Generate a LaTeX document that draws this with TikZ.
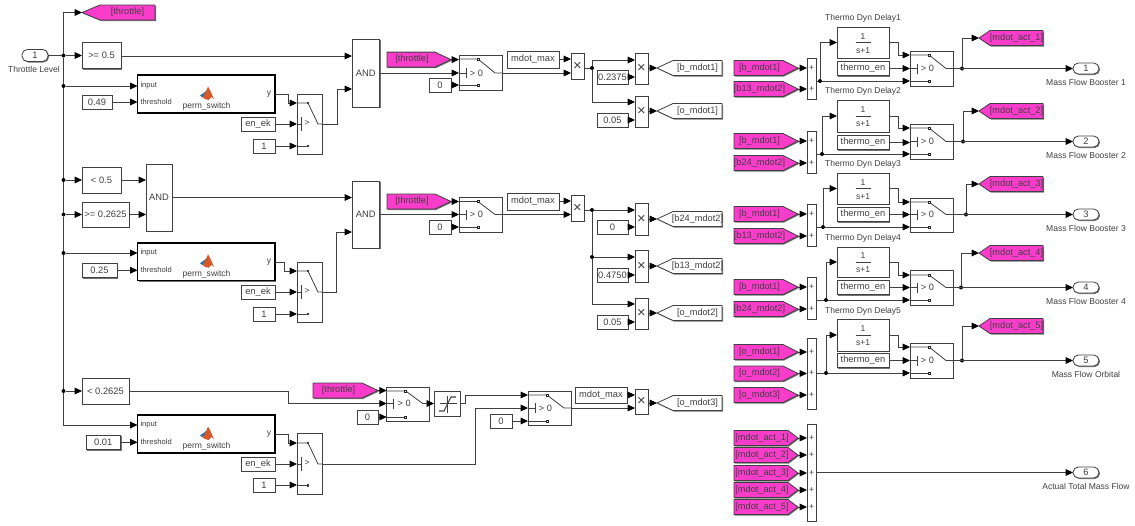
\documentclass[tikz,border=0pt]{standalone}
\usepackage{fontspec}
\setmainfont{Liberation Sans}
\usetikzlibrary{arrows.meta,shadows,calc}
\definecolor{pinkfill}{HTML}{FA3CCB}
\definecolor{wirec}{gray}{0.25}
\definecolor{textc}{gray}{0.25}
\definecolor{mlblue}{HTML}{2A72A8}
\definecolor{mlorange}{HTML}{D9582A}
\tikzset{
  shad/.style={drop shadow={shadow xshift=.75pt,shadow yshift=-.75pt,fill=black!55,opacity=1}},
  blk/.style={rectangle,draw=black!75,fill=white,line width=.6pt,inner sep=0pt,outer sep=0pt,shad,font=\fontsize{7}{8}\selectfont,text=textc},
  permblk/.style={blk,draw=black,line width=1.1pt},
  portblk/.style={blk,rounded corners=4pt},
  prodblk/.style={blk,font=\fontsize{11}{11}\selectfont},
  txt/.style={inner sep=0pt,outer sep=0pt,font=\fontsize{6.4}{8}\selectfont,text=textc},
  pentxt/.style={txt,font=\fontsize{6.9}{8}\selectfont},
  smalltxt/.style={txt,font=\fontsize{5.7}{7}\selectfont},
  wire/.style={draw=wirec,line width=.6pt,-{Triangle[length=5.5pt,width=5pt,color=black]}},
  line/.style={draw=wirec,line width=.6pt},
  jdot/.style={circle,fill=black,inner sep=0pt,minimum size=3pt,outer sep=0pt},
  pent/.style={draw=black!75,line width=.6pt,shad},
  pink/.style={pent,fill=pinkfill},
  white pent/.style={pent,fill=white},
  term/.style={draw=black!85,line width=.5pt,fill=white},
}
% block: [style]{name}{x1}{y1}{x2}{y2}{text}
\newcommand\bx[7][blk]{\node[#1,minimum width={((#5)-(#3))*0.75pt},minimum height={((#6)-(#4))*0.75pt}] (#2) at ({((#3)+(#5))/2},{((#4)+(#6))/2}) {#7};}
% pentagon pointing right (From): name, x1, tip, shoulder, cy, text
\newcommand\fromp[6]{\path[pink] (#2,#5-7.5) -- (#4,#5-7.5) -- (#3,#5) -- (#4,#5+7.5) -- (#2,#5+7.5) -- cycle;
  \coordinate (#1) at (#3,#5);
  \node[pentxt] (#1t) at ({((#2)+(#4))/2+1},#5) {#6};}
% pentagon pointing left (Goto): [style], name, tip, shoulder, x2, cy, text
\newcommand\gotop[7][white pent]{\path[#1] (#3,#6) -- (#4,#6-7.5) -- (#5,#6-7.5) -- (#5,#6+7.5) -- (#4,#6+7.5) -- cycle;
  \coordinate (#2) at (#3,#6);
  \node[pentxt] (#2t) at ({((#4)+(#5))/2},#6) {#7};}
% narrow switch: name,x1,y1,x2,y2,ya,yb,yc
\newcommand\swn[8]{\bx{#1}{#2}{#3}{#4}{#5}{}
  \draw[line] (#2,#6) -- (#2+11,#6) -- (#2+21,#7) -- (#4,#7);
  \draw[line] (#2,#8) -- (#2+11,#8);
  \draw[line,line width=1pt] (#2+11,#6-1.3) -- (#2+11,#6+1.3);
  \draw[line,line width=1pt] (#2+11,#8-1.3) -- (#2+11,#8+1.3);
  \draw[line] (#2,#7) -- (#2+4,#7) (#2+4,#7-7) -- (#2+4,#7+7);
  \node[txt] (#1c) at (#2+10,#7-1) {>};}
% wide switch
\newcommand\swv[8]{\bx{#1}{#2}{#3}{#4}{#5}{}
  \draw[line] (#2,#6) -- (#2+19,#6) -- (#2+36,#7) -- (#4,#7);
  \draw[line] (#2,#8) -- (#2+19,#8);
  \draw[term] (#2+18,#6-1) rectangle (#2+20,#6+1);
  \draw[term] (#2+18,#8-1) rectangle (#2+20,#8+1);
  \draw[line] (#2,#7) -- (#2+7,#7) (#2+7,#7-5) -- (#2+7,#7+5);
  \node[pentxt] (#1c) at (#2+17.5,#7) {> 0};}
% perm_switch block: name,y1,y2,yin,ythr,yout
\newcommand\perm[6]{\bx[permblk]{#1}{137.5}{#2}{275}{#3}{}
  \node[smalltxt,anchor=west] (#1i) at (140.5,#4) {input};
  \node[smalltxt,anchor=west] (#1h) at (140.5,#5) {threshold};
  \node[txt] (#1y) at (269,#6) {y};
  \node[txt] (#1n) at (206.5,{(#2+#3)/2+12.5}) {perm\_switch};
  \begin{scope}[shift={(207,{(#2+#3)/2-0.5})}]
    \fill[mlblue] (-7,2) -- (-2.5,-1.2) -- (-.5,-3.2) -- (1,-1.5) -- (-3,2) -- (-4.2,4) -- cycle;
    \fill[mlorange] (-.5,-3.2) -- (1,-7) -- (3.2,-3) -- (7,5.5) -- (4.5,3.5) -- (1.5,6.5) -- (-2,5.5) -- (-4.2,4) -- (-3,2) -- cycle;
  \end{scope}}
\begin{document}
\begin{tikzpicture}[x=0.75pt,y=-0.75pt]
\useasboundingbox (0,0) rectangle (1135,525);
% --- input and bus ---
\bx[portblk]{tl}{22}{49.5}{48}{61.5}{1}
\node[txt] (tll) at (34,69) {Throttle Level};
\node[jdot] (j0) at (63.5,55.5) {};
\node[jdot] (j1) at (63.5,86) {};
\node[jdot] (j2) at (63.5,180) {};
\node[jdot] (j3) at (63.5,214.5) {};
\node[jdot] (j4) at (63.5,253) {};
\node[jdot] (j5) at (63.5,391) {};
\gotop[pink]{gthr}{82}{100}{155}{12.5}{[throttle]}
\draw[line] (tl.east) -- (j0);
\draw[wire] (j0) |- (gthr);
\draw[line] (j0) -- (j1) -- (j2) -- (j3) -- (j4) -- (j5);
% --- first row ---
\bx{c1}{82}{42.5}{121}{68.5}{>= 0.5}
\bx{and1}{352}{39}{379.5}{107}{AND}
\draw[wire] (j0) -- (c1.west |- j0);
\draw[wire] (c1.east |- 0,56) -- (and1.west |- 0,56);
\perm{ps1}{75}{113}{86}{102}{94}
\bx{k1}{82}{95}{112}{109}{0.49}
\draw[wire] (j1) -- (ps1.west |- j1);
\draw[wire] (k1.east) -- (ps1.west |- k1.east);
\bx{en1}{241}{117}{275}{131}{en\_ek}
\bx{o1}{253}{139}{275}{153}{1}
\swn{s1}{297}{94}{322}{154}{103}{124}{146}
\draw[wire] (ps1.east |- 0,94) -| (288,103) -- (s1.west |- 0,103);
\draw[wire] (en1.east) -- (s1.west |- en1.east);
\draw[wire] (o1.east) -- (s1.west |- o1.east);
\draw[wire] (s1.east |- 0,124) -- (337.5,124) -- (337.5,89) -- (and1.west |- 0,89);
\fromp{f1}{387}{451}{435}{59.6}{[throttle]}
\bx{k2}{429}{78}{451}{92}{0}
\swv{s2}{459}{55}{502}{90}{59}{73}{85}
\draw[wire] (f1) -- (s2.west |- f1);
\draw[wire] (and1.east |- 0,73) -- (s2.west |- 0,73);
\draw[wire] (k2.east) -- (s2.west |- k2.east);
\bx{m1}{507}{51}{559}{68}{mdot\_max}
\bx[prodblk]{p1}{571}{53}{584}{79}{×}
\draw[wire] (m1.east |- 0,59) -- (p1.west |- 0,59);
\draw[wire] (s2.east |- 0,73) -- (p1.west |- 0,73);
\bx[prodblk]{p2}{635}{53}{648}{84}{×}
\bx[prodblk]{p3}{635}{96}{648}{127}{×}
\bx{k3}{597}{70}{628}{84}{0.2375}
\bx{k4}{597}{113}{628}{127}{0.05}
\node[jdot] (j6) at (592,68) {};
\draw[line] (p1.east |- j6) -- (j6);
\draw[wire] (j6) |- (p2.west |- 0,60);
\draw[wire] (j6) |- (p3.west |- 0,102);
\draw[wire] (k3.east) -- (p2.west |- k3.east);
\draw[wire] (k4.east) -- (p3.west |- k4.east);
\gotop{g1}{657}{673}{722}{68}{[b\_mdot1]}
\gotop{g2}{657}{673}{722}{111}{[o\_mdot1]}
\draw[wire] (p2.east |- g1) -- (g1);
\draw[wire] (p3.east |- g2) -- (g2);
% --- second row ---
\bx{c2}{82}{167}{121}{193}{< 0.5}
\bx{c3}{82}{202}{129}{227}{>= 0.2625}
\bx{and2}{146}{164}{172}{231}{AND}
\bx{and3}{352}{181}{379.5}{248}{AND}
\draw[wire] (j2) -- (c2.west |- j2);
\draw[wire] (j3) -- (c3.west |- j3);
\draw[wire] (c2.east |- j2) -- (and2.west |- j2);
\draw[wire] (c3.east |- j3) -- (and2.west |- j3);
\draw[wire] (and2.east |- 0,197.5) -- (and3.west |- 0,197.5);
\perm{ps2}{243}{280.5}{253}{270}{262}
\bx{k5}{82}{263}{117}{277.5}{0.25}
\draw[wire] (j4) -- (ps2.west |- j4);
\draw[wire] (k5.east) -- (ps2.west |- k5.east);
\bx{en2}{241}{285}{275}{299}{en\_ek}
\bx{o2}{253}{307}{275}{321}{1}
\swn{s3}{297}{262}{322}{322}{271}{292}{314}
\draw[wire] (ps2.east |- 0,262) -| (284,271) -- (s3.west |- 0,271);
\draw[wire] (en2.east) -- (s3.west |- en2.east);
\draw[wire] (o2.east) -- (s3.west |- o2.east);
\draw[wire] (s3.east |- 0,292) -- (336,292) -- (336,232) -- (and3.west |- 0,232);
\fromp{f2}{387}{451}{435}{201.5}{[throttle]}
\bx{k6}{429}{220}{451}{234}{0}
\swv{s4}{459}{197}{502}{232}{201.5}{214.5}{227}
\draw[wire] (f2) -- (s4.west |- f2);
\draw[wire] (and3.east |- 0,214.5) -- (s4.west |- 0,214.5);
\draw[wire] (k6.east) -- (s4.west |- k6.east);
\bx{m2}{507}{193}{559}{210}{mdot\_max}
\bx[prodblk]{p4}{571}{195}{584}{221}{×}
\draw[wire] (m2.east |- 0,201) -- (p4.west |- 0,201);
\draw[wire] (s4.east |- 0,214.5) -- (p4.west |- 0,214.5);
\bx[prodblk]{p5}{635}{203}{648}{235}{×}
\bx[prodblk]{p6}{635}{250}{648}{282}{×}
\bx[prodblk]{p7}{635}{298}{648}{329}{×}
\bx{k7}{597}{220}{628}{234}{0}
\bx{k8}{597}{268}{628}{282}{0.4750}
\bx{k9}{597}{315}{628}{329}{0.05}
\node[jdot] (j7) at (592,210) {};
\node[jdot] (j8) at (592,257) {};
\draw[line] (p4.east |- j7) -- (j7);
\draw[wire] (j7) -- (p5.west |- j7);
\draw[wire] (j8) -- (p6.west |- j8);
\draw[line] (j7) -- (j8);
\draw[wire] (j8) |- (p7.west |- 0,304);
\draw[wire] (k7.east) -- (p5.west |- k7.east);
\draw[wire] (k8.east) -- (p6.west |- k8.east);
\draw[wire] (k9.east) -- (p7.west |- k9.east);
\gotop{g3}{657}{673}{722}{219}{[b24\_mdot2]}
\gotop{g4}{657}{673}{722}{266}{[b13\_mdot2]}
\gotop{g5}{657}{673}{722}{313}{[o\_mdot2]}
\draw[wire] (p5.east |- g3) -- (g3);
\draw[wire] (p6.east |- g4) -- (g4);
\draw[wire] (p7.east |- g5) -- (g5);
% --- third row ---
\bx{c4}{82}{378}{129}{404}{< 0.2625}
\draw[wire] (j5) -- (c4.west |- j5);
\perm{ps3}{415}{453}{425}{442}{434}
\bx{k10}{86}{435}{120.5}{449.5}{0.01}
\draw[wire] (j5) |- (ps3.west |- 0,425);
\draw[wire] (k10.east) -- (ps3.west |- k10.east);
\bx{en3}{241}{457}{275}{471}{en\_ek}
\bx{o3}{253}{478}{275}{492}{1}
\swn{s5}{297}{433}{322}{494}{443}{464}{485.5}
\draw[wire] (ps3.east |- 0,434) -| (288,443) -- (s5.west |- 0,443);
\draw[wire] (en3.east) -- (s5.west |- en3.east);
\draw[wire] (o3.east) -- (s5.west |- o3.east);
\fromp{f3}{313}{378}{362}{390.5}{[throttle]}
\bx{k11}{357}{410}{378}{424}{0}
\swv{s6}{386.7}{387}{429}{421}{391}{403.5}{417}
\draw[wire] (c4.east |- j5) -- (288,391) -- (288,403.5) -- (s6.west |- 0,403.5);
\draw[wire] (f3) -- (s6.west |- f3);
\draw[wire] (k11.east) -- (s6.west |- k11.east);
\bx{sat}{434}{391}{460}{416}{}
\draw[wire] (s6.east |- 0,403.5) -- (sat.west |- 0,403.5);
\draw[line] (440,403.5) -- (457,403.5) (447.5,395.5) -- (447.5,413);
\draw[line,line width=.8pt] (439,411) -- (444,411) -- (451,397) -- (456,397);
\bx{s7d}{490}{414}{512}{428}{0}
\swv{s7}{528}{391}{571}{425}{395}{408}{421}
\draw[wire] (sat.east |- 0,403.5) -- (465,403.5) -- (465,395) -- (s7.west |- 0,395);
\draw[wire] (s5.east |- 0,464) -- (475,464) -- (475,408) -- (s7.west |- 0,408);
\draw[wire] (s7d.east) -- (s7.west |- s7d.east);
\bx{m3}{575}{387}{627}{403}{mdot\_max}
\bx[prodblk]{p8}{635}{389}{648}{414}{×}
\draw[wire] (m3.east |- 0,395) -- (p8.west |- 0,395);
\draw[wire] (s7.east |- 0,408) -- (p8.west |- 0,408);
\gotop{g6}{657}{673}{722}{403}{[o\_mdot3]}
\draw[wire] (p8.east |- g6) -- (g6);
% --- right side: five delay channels ---
\foreach \i/\ly/\tft/\tfb/\te/\st/\sb/\ya/\yb/\yc/\jx/\ox/\gy/\oly/\oname in {
  1/18/27/58/68.5/51/86/55/68.5/81/820/962/38/82/Mass Flow Booster 1,
  2/91/100/132/142.5/124/159/128/141.5/154/822/963/111/155/Mass Flow Booster 2,
  3/164/173/204/214.5/198/232/202/214.5/227/823/966/184/228/Mass Flow Booster 3,
  4/238/247/277/287.5/270/305/275/287.5/300/826/961/253/301/Mass Flow Booster 4,
  5/311/319/351/360.5/343/378/347/360.5/373/826/962/326/374/Mass Flow Orbital}{
  \node[txt] (dl\i) at (863,\ly) {Thermo Dyn Delay\i};
  \bx{tf\i}{837}{\tft}{889}{\tfb}{}
  \node[txt] (tfn\i) at ($(tf\i.center)+(0,-6)$) {1};
  \node[txt] (tfd\i) at ($(tf\i.center)+(0,8)$) {s+1};
  \draw[line] ($(tf\i.center)+(-7.5,0)$) -- ($(tf\i.center)+(7.5,0)$);
  \bx{te\i}{837}{\te-7}{889}{\te+7}{thermo\_en}
  \swv{sw\i}{910}{\st}{953}{\sb}{\ya}{\yb}{\yc}
  \draw[wire] (tf\i.east) -- (898,0 |- tf\i.east) -- (898,\ya) -- (sw\i.west |- 0,\ya);
  \draw[wire] (te\i.east) -- (sw\i.west |- te\i.east);
  \node[jdot] (jo\i) at (\ox,\yb) {};
  \bx[portblk]{out\i}{1073}{\yb-5.5}{1099}{\yb+5.5}{\i}
  \node[txt] (ol\i) at (1086,\oly) {\oname};
  \draw[wire] (sw\i.east |- jo\i) -- (out\i.west |- jo\i);
  \gotop[pink]{ga\i}{979}{990}{1043}{\gy}{[mdot\_act\_\i]}
  \draw[wire] (jo\i) |- (ga\i);
  \node[jdot] (js\i) at (\jx,\yc) {};
  \draw[wire] (js\i) -- (sw\i.west |- js\i);
  \draw[wire] (js\i) |- (tf\i.west);
}
% --- sums ---
\foreach \i/\ya/\yb/\yo/\ta/\tb in {1/68/89/81/[b\_mdot1]/[b13\_mdot2],
  2/141/163/154/[b\_mdot1]/[b24\_mdot2],
  3/214/236/227/[b\_mdot1]/[b13\_mdot2],
  4/287/309/300/[b\_mdot1]/[b24\_mdot2]}{
  \bx{sum\i}{807}{\ya-10}{816}{\yb+10}{}
  \fromp{fa\i}{734}{798}{783}{\ya}{\ta}
  \fromp{fb\i}{734}{798}{783}{\yb}{\tb}
  \draw[wire] (fa\i) -- (sum\i.west |- fa\i);
  \draw[wire] (fb\i) -- (sum\i.west |- fb\i);
  \node[txt] (pa\i) at (811.5,\ya) {+};
  \node[txt] (pb\i) at (811.5,\yb) {+};
  \draw[line] (sum\i.east |- 0,\yo) -- (js\i);
}
\bx{sum5}{807}{338}{816}{409}{}
\foreach \n/\y/\t in {1/352/[o\_mdot1],2/373.5/[o\_mdot2],3/395/[o\_mdot3]}{
  \fromp{fo\n}{734}{798}{783}{\y}{\t}
  \draw[wire] (fo\n) -- (sum5.west |- fo\n);
  \node[txt] (po\n) at (811.5,\y) {+};
}
\draw[line] (sum5.east |- 0,373) -- (js5);
\bx{sum6}{807}{424}{816}{521}{}
\foreach \n/\y in {1/438,2/455,3/473,4/490,5/507}{
  \fromp{ft\n}{734}{798}{788}{\y}{[mdot\_act\_\n]}
  \draw[wire] (ft\n) -- (sum6.west |- ft\n);
  \node[txt] (pt\n) at (811.5,\y) {+};
}
\bx[portblk]{out6}{1073}{467}{1099}{478}{6}
\node[txt] (ol6) at (1086,486) {Actual Total Mass Flow};
\draw[wire] (sum6.east |- out6) -- (out6.west);
\end{tikzpicture}
\end{document}
